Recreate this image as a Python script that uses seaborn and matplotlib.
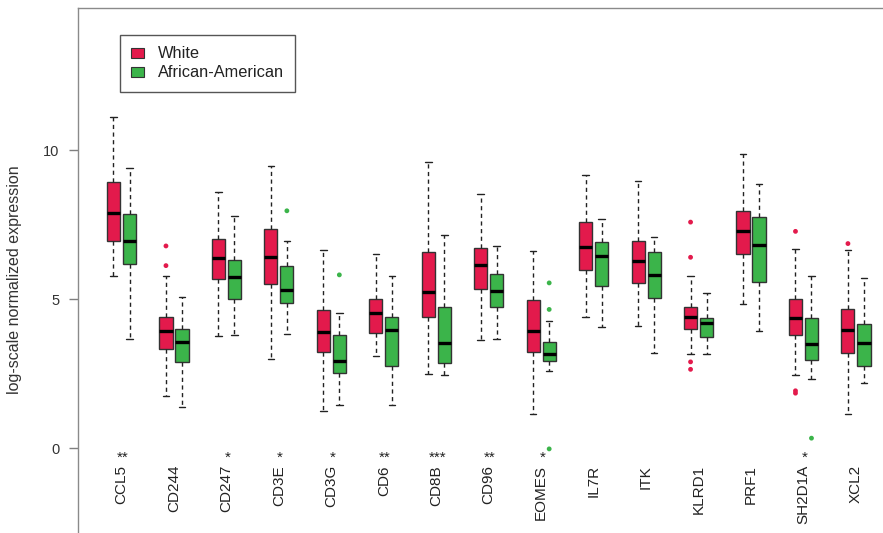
import numpy as np
import pandas as pd
import matplotlib
matplotlib.use("Agg")
import matplotlib.pyplot as plt
from matplotlib.patches import Patch
import seaborn as sns

# ---------------- data ----------------
genes = ["CCL5", "CD244", "CD247", "CD3E", "CD3G", "CD6", "CD8B", "CD96",
         "EOMES", "IL7R", "ITK", "KLRD1", "PRF1", "SH2D1A", "XCL2"]
stars = ["**", "", "*", "*", "*", "**", "***", "**", "*", "", "", "", "", "*", ""]
groups = ["White", "African-American"]

# five-number summaries: lower whisker, Q1, median, Q3, upper whisker
white_low = [5.78, 1.74, 3.75, 2.98, 1.23, 3.10, 2.49, 3.62, 1.14, 4.40, 4.09, 3.15, 4.83, 2.45, 1.14]
white_q1 = [6.96, 3.31, 5.67, 5.49, 3.22, 3.86, 4.40, 5.35, 3.21, 5.98, 5.55, 4.00, 6.51, 3.78, 3.19]
white_med = [7.88, 3.94, 6.38, 6.40, 3.88, 4.52, 5.25, 6.13, 3.94, 6.74, 6.26, 4.40, 7.28, 4.35, 3.96]
white_q3 = [8.92, 4.41, 7.02, 7.35, 4.62, 5.01, 6.57, 6.71, 4.97, 7.58, 6.95, 4.74, 7.96, 5.01, 4.65]
white_high = [11.12, 5.78, 8.60, 9.47, 6.64, 6.50, 9.60, 8.52, 6.61, 9.16, 8.96, 5.78, 9.88, 6.69, 6.63]

aa_low = [3.66, 1.37, 3.79, 3.81, 1.45, 1.45, 2.45, 3.67, 2.59, 4.05, 3.20, 3.15, 3.94, 2.32, 2.19]
aa_q1 = [6.17, 2.88, 5.00, 4.88, 2.53, 2.76, 2.84, 4.73, 2.91, 5.45, 5.04, 3.74, 5.56, 2.95, 2.76]
aa_med = [6.96, 3.55, 5.73, 5.29, 2.92, 3.95, 3.53, 5.28, 3.16, 6.44, 5.81, 4.18, 6.82, 3.48, 3.53]
aa_q3 = [7.85, 4.00, 6.31, 6.10, 3.79, 4.40, 4.74, 5.84, 3.57, 6.90, 6.57, 4.35, 7.74, 4.35, 4.17]
aa_high = [9.38, 5.08, 7.79, 6.96, 4.52, 5.78, 7.15, 6.79, 4.26, 7.67, 7.09, 5.21, 8.87, 5.78, 5.69]

# outliers
out_gene = ["CD244", "CD244", "KLRD1", "KLRD1", "KLRD1", "KLRD1", "SH2D1A", "SH2D1A", "SH2D1A", "XCL2",
            "CD3E", "CD3G", "EOMES", "EOMES", "EOMES", "SH2D1A"]
out_group = ["White"] * 10 + ["African-American"] * 6
out_value = [6.78, 6.12, 7.58, 6.40, 2.89, 2.64, 7.27, 1.92, 1.84, 6.86,
             7.96, 5.81, 5.54, 4.65, -0.03, 0.33]

# ---------------- build long-form tables ----------------
rows = []
summaries = {
    "White": [white_low, white_q1, white_med, white_q3, white_high],
    "African-American": [aa_low, aa_q1, aa_med, aa_q3, aa_high],
}
for gi, g in enumerate(genes):
    for grp in groups:
        for arr in summaries[grp]:
            rows.append({"gene": g, "pos": gi, "group": grp, "value": arr[gi]})
df = pd.DataFrame(rows)

BOX_WIDTH = 0.61
dodge_off = {"White": -BOX_WIDTH / 4, "African-American": BOX_WIDTH / 4}
df_out = pd.DataFrame({"gene": out_gene, "group": out_group, "value": out_value})
df_out["x"] = [genes.index(g) + dodge_off[grp] for g, grp in zip(df_out["gene"], df_out["group"])]

# ---------------- styling ----------------
sns.set_style("white")
plt.rcParams["font.family"] = ["Liberation Sans", "DejaVu Sans"]
red = "#E31A4C"
green = "#3BB44A"
palette = {"White": red, "African-American": green}

W, H = 883, 533
fig = plt.figure(figsize=(W / 100, H / 100), dpi=100)
left_px, right_px, top_px, bottom_px = 78, 900, 8, 560
ax = fig.add_axes([left_px / W, 1 - bottom_px / H,
                   (right_px - left_px) / W, (bottom_px - top_px) / H])

sns.boxplot(data=df, x="pos", y="value", hue="group", hue_order=groups,
            palette=palette, native_scale=True, width=BOX_WIDTH, gap=0.18,
            whis=(0, 100), showfliers=False, saturation=1, linewidth=1,
            linecolor="#333333", legend=False,
            whiskerprops={"linestyle": (0, (3, 2.5)), "color": "#222222"},
            capprops={"color": "#222222"},
            medianprops={"linewidth": 2.4, "color": "black"},
            ax=ax)

sns.scatterplot(data=df_out, x="x", y="value", hue="group", hue_order=groups,
                palette=palette, s=12, linewidth=0, legend=False, ax=ax, zorder=5)

# axes ranges (0 at y=448px, 29.8 px per unit; group spacing 52.46 px)
px_per_unit_y = 29.8
y0_px = 448
ax.set_ylim((y0_px - bottom_px) / px_per_unit_y, (y0_px - top_px) / px_per_unit_y)
px_per_group = 52.46
x0_px = 121.5
ax.set_xlim((left_px - x0_px) / px_per_group, (right_px - x0_px) / px_per_group)

ax.set_xticks([])
ax.set_xlabel("")
ax.set_yticks([0, 5, 10])
ax.tick_params(axis="y", direction="out", length=6.5, width=1, color="#7f7f7f",
               labelcolor="#333333", labelsize=10.5, pad=7, left=True)
for side in ["right", "bottom"]:
    ax.spines[side].set_visible(False)
for side in ["left", "top"]:
    ax.spines[side].set_color("#8a8a8a")
    ax.spines[side].set_linewidth(1)

ax.set_ylabel("log-scale normalized expression", fontsize=11.5, color="#333333")
ax.yaxis.set_label_coords(-0.068, 0.508)

# gene labels and significance stars
name_y = (y0_px - 465) / px_per_unit_y
star_y = (y0_px - 461.5) / px_per_unit_y
for gi, (g, s) in enumerate(zip(genes, stars)):
    ax.text(gi, name_y, g, rotation=90, ha="center", va="top",
            fontsize=11, color="#222222")
    if s:
        ax.text(gi + 0.02, star_y, s, ha="center", va="baseline",
                fontsize=11, color="#222222")

# legend
handles = [Patch(facecolor=red, edgecolor="#333333", linewidth=0.8),
           Patch(facecolor=green, edgecolor="#333333", linewidth=0.8)]
leg = ax.legend(handles, groups, loc="upper left",
                bbox_to_anchor=(120 / W, 1 - 35 / H), bbox_transform=fig.transFigure,
                borderaxespad=0, fontsize=11.8, fancybox=False, framealpha=1,
                edgecolor="#555555", handlelength=0.75, handleheight=0.55,
                handletextpad=0.85, labelspacing=0.24, borderpad=0.7)
leg.get_frame().set_linewidth(1)
for t in leg.get_texts():
    t.set_color("#222222")

fig.savefig("out.png", dpi=100)
